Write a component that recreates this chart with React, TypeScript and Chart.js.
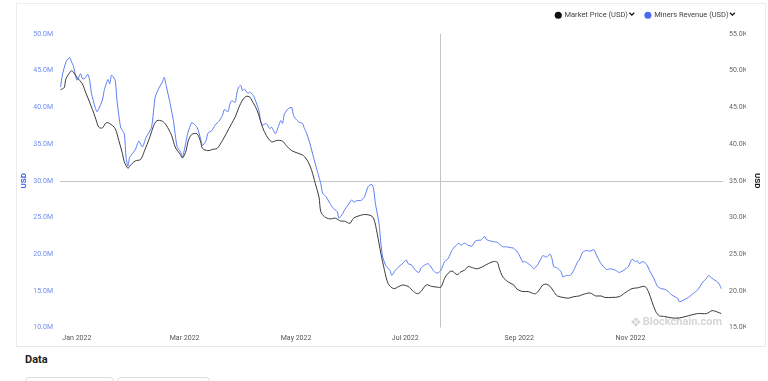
import React, { useEffect, useRef } from "react";
import { Chart, registerables } from "chart.js";

Chart.register(...registerables);

// x positions are day offsets from 1 Jan 2022
const monthTickDays = [0, 59, 120, 181, 243, 304];
const monthTickLabels = ["Jan 2022", "Mar 2022", "May 2022", "Jul 2022", "Sep 2022", "Nov 2022"];

// Miners Revenue (USD), millions
const revenueDays = [
  -1, 0, 2, 4, 5, 6, 8, 10, 11, 12,
  14, 15, 16, 18, 19, 20, 22, 23, 25, 26,
  27, 29, 30, 32, 34, 35, 36, 37, 40, 42,
  44, 46, 49, 51, 53, 55, 56, 57, 59, 61,
  63, 65, 66, 68, 69, 71, 72, 74, 76, 77,
  79, 80, 82, 84, 86, 88, 89, 91, 92, 93,
  95, 96, 97, 98, 99, 100, 102, 103, 105, 106,
  108, 109, 110, 112, 114, 115, 117, 118, 120, 121,
  122, 124, 126, 127, 128, 130, 132, 133, 134, 136,
  138, 140, 141, 142, 143, 145, 147, 149, 151, 152,
  154, 155, 157, 159, 160, 162, 164, 166, 168, 170,
  171, 172, 174, 175, 176, 178, 180, 181, 183, 185,
  186, 189, 190, 192, 194, 196, 197, 199, 201, 203,
  204, 206, 208, 210, 212, 214, 216, 218, 219, 221,
  223, 225, 227, 229, 230, 232, 233, 235, 237, 239,
  240, 242, 244, 246, 248, 250, 251, 253, 254, 256,
  258, 259, 261, 263, 264, 266, 268, 269, 270, 272,
  274, 275, 277, 279, 281, 283, 284, 286, 288, 290,
  292, 294, 296, 299, 301, 304, 306, 309, 311, 313,
  315, 316, 317, 319, 321, 323, 325, 327, 329, 331,
  333, 335, 338, 339, 341, 344, 347, 349, 352, 354,
  355, 357, 360, 361, 362,
];
const revenueValues = [
  42.8, 44.4, 46.2, 46.8, 46.2, 45.7, 43.7, 44.6, 43.9, 43.9,
  44.5, 43.7, 41.9, 40.0, 39.4, 39.8, 41.0, 42.3, 43.8, 43.2,
  44.4, 43.7, 41.0, 37.3, 36.4, 33.2, 32.0, 33.2, 34.2, 35.4,
  34.6, 35.9, 37.3, 41.4, 42.6, 43.5, 44.1, 43.0, 40.8, 38.2,
  34.7, 33.9, 33.2, 35.4, 36.6, 37.9, 37.8, 37.3, 35.7, 34.8,
  35.5, 36.5, 36.8, 37.6, 38.1, 38.9, 39.7, 39.4, 40.4, 40.9,
  40.7, 42.1, 42.8, 43.0, 42.3, 42.5, 41.9, 42.1, 41.6, 41.0,
  39.6, 38.0, 37.6, 37.8, 37.1, 37.3, 36.4, 36.9, 38.2, 37.8,
  39.1, 39.8, 40.0, 38.9, 38.5, 38.0, 37.8, 37.1, 36.6, 35.1,
  33.2, 31.4, 30.5, 29.6, 28.3, 27.8, 26.9, 26.2, 25.8, 24.9,
  25.5, 26.0, 26.7, 27.4, 27.1, 27.3, 27.3, 27.8, 29.2, 29.5,
  28.9, 26.9, 24.2, 21.5, 19.6, 18.3, 17.8, 17.1, 17.8, 18.3,
  18.5, 19.2, 18.7, 18.5, 17.8, 17.5, 18.1, 18.5, 18.7, 18.1,
  17.7, 17.4, 17.8, 19.0, 19.4, 20.5, 21.1, 21.5, 21.2, 21.5,
  21.2, 21.1, 21.8, 21.9, 21.9, 22.4, 22.0, 21.8, 21.7, 21.6,
  21.4, 21.0, 21.0, 20.9, 20.8, 20.3, 19.9, 18.9, 19.0, 18.7,
  18.3, 18.0, 18.5, 19.4, 19.8, 19.6, 20.0, 19.4, 18.3, 18.1,
  17.6, 16.9, 17.1, 17.1, 17.8, 18.9, 19.2, 20.3, 20.5, 20.4,
  20.6, 19.6, 18.7, 17.9, 18.0, 17.8, 17.5, 17.9, 18.3, 19.3,
  19.0, 19.1, 18.7, 19.0, 18.6, 17.6, 16.7, 15.6, 15.3, 15.2,
  14.9, 14.4, 14.0, 13.5, 13.7, 14.1, 14.7, 15.1, 16.2, 16.7,
  17.1, 16.7, 16.2, 15.9, 15.3,
];

// Market Price (USD), thousands
const priceDays = [
  -1, 1, 2, 5, 6, 8, 11, 13, 15, 18,
  20, 22, 24, 26, 29, 31, 33, 34, 36, 37,
  40, 43, 45, 48, 50, 52, 55, 57, 60, 62,
  65, 66, 68, 69, 71, 74, 76, 77, 80, 83,
  85, 88, 90, 93, 95, 97, 99, 101, 103, 104,
  107, 110, 112, 115, 118, 121, 123, 126, 129, 132,
  133, 135, 137, 139, 141, 142, 144, 147, 150, 153,
  155, 158, 160, 164, 166, 169, 171, 173, 175, 177,
  179, 182, 185, 187, 190, 193, 195, 197, 200, 203,
  206, 208, 210, 212, 214, 217, 219, 221, 223, 226,
  228, 231, 234, 237, 239, 240, 242, 245, 248, 250,
  253, 256, 258, 260, 262, 264, 266, 268, 270, 272,
  275, 278, 281, 284, 286, 290, 293, 296, 298, 302,
  306, 309, 313, 316, 320, 322, 324, 326, 328, 331,
  335, 339, 344, 349, 354, 357, 360, 362,
];
const priceValues = [
  47.4, 47.7, 48.9, 50.0, 49.8, 49.1, 48.2, 46.9, 45.7, 43.7,
  42.3, 42.2, 42.9, 42.8, 42.1, 40.5, 38.7, 37.6, 36.7, 37.0,
  37.7, 37.9, 39.0, 40.9, 42.4, 43.2, 43.1, 42.6, 41.2, 39.6,
  38.5, 38.1, 39.1, 40.3, 41.3, 41.4, 40.3, 39.4, 39.1, 39.3,
  39.4, 40.5, 41.4, 42.8, 43.7, 45.0, 46.0, 46.5, 46.4, 46.0,
  44.6, 42.3, 41.2, 40.3, 40.5, 40.4, 39.8, 39.1, 38.8, 38.5,
  38.3, 37.6, 36.4, 34.6, 32.8, 30.8, 30.1, 29.8, 29.9, 29.5,
  29.5, 29.2, 29.9, 30.3, 30.4, 30.3, 29.9, 27.8, 25.1, 22.8,
  21.0, 20.3, 20.6, 20.8, 20.6, 19.9, 19.6, 19.9, 20.8, 20.6,
  20.5, 20.5, 21.7, 22.4, 22.7, 22.2, 22.6, 22.8, 23.3, 23.1,
  23.0, 23.3, 23.7, 24.0, 23.9, 23.1, 21.9, 21.2, 20.8, 20.2,
  19.9, 19.9, 19.7, 19.6, 20.1, 20.8, 20.9, 20.6, 19.9, 19.3,
  19.1, 19.0, 19.2, 19.3, 19.5, 19.7, 19.3, 19.3, 19.1, 19.1,
  19.2, 19.7, 20.3, 20.4, 20.6, 19.9, 18.5, 17.2, 16.6, 16.5,
  16.3, 16.3, 16.6, 16.9, 16.9, 17.3, 17.1, 16.9,
];

const crosshairDay = 207.5;
const crosshairRevenue = 30;

const FONT = 'Roboto, "Noto Sans", sans-serif';
const BLUE = "#5a7cf4";
const BLACK = "#3a3a3a";

const legendSpacer = {
  id: "legendSpacer",
  beforeInit(chart: any) {
    const legend = chart.legend;
    if (!legend) return;
    const orig = legend.fit;
    legend.fit = function () {
      orig.call(this);
      this.height += 5;
    };
  },
};

const chevrons = {
  id: "chevrons",
  afterDraw(chart: any) {
    const boxes = chart.legend && chart.legend.legendHitBoxes;
    if (!boxes) return;
    const ctx = chart.ctx;
    ctx.save();
    ctx.strokeStyle = "#111";
    ctx.lineWidth = 1.3;
    ctx.lineJoin = "miter";
    boxes.forEach((b: any) => {
      const x = b.left + b.width - 6;
      const y = b.top + b.height / 2 - 1;
      ctx.beginPath();
      ctx.moveTo(x, y - 1.5);
      ctx.lineTo(x + 2.4, y + 0.9);
      ctx.lineTo(x + 4.8, y - 1.5);
      ctx.stroke();
    });
    ctx.restore();
  },
};

const crosshair = {
  id: "crosshair",
  beforeDatasetsDraw(chart: any) {
    const { ctx, chartArea, scales } = chart;
    const x = Math.round(scales.x.getPixelForValue(crosshairDay)) + 0.5;
    const y = Math.round(scales.yRev.getPixelForValue(crosshairRevenue)) + 0.5;
    ctx.save();
    ctx.strokeStyle = "#c4c4c4";
    ctx.lineWidth = 1;
    ctx.beginPath();
    ctx.moveTo(x, chartArea.top);
    ctx.lineTo(x, chartArea.bottom);
    ctx.moveTo(chartArea.left, y);
    ctx.lineTo(chartArea.right, y);
    ctx.stroke();
    ctx.restore();
  },
};

const watermark = {
  id: "watermark",
  beforeDatasetsDraw(chart: any) {
    const { ctx, chartArea } = chart;
    ctx.save();
    ctx.fillStyle = "#d6d6d6";
    ctx.font = `bold 11px ${FONT}`;
    ctx.textAlign = "right";
    ctx.textBaseline = "middle";
    const tx = chartArea.right - 1;
    const ty = chartArea.bottom - 5.5;
    ctx.fillText("Blockchain.com", tx, ty);
    const w = ctx.measureText("Blockchain.com").width;
    const cx = tx - w - 7;
    const s = 4.8;
    ctx.beginPath();
    ctx.moveTo(cx, ty - s);
    ctx.lineTo(cx + s, ty);
    ctx.lineTo(cx, ty + s);
    ctx.lineTo(cx - s, ty);
    ctx.closePath();
    ctx.fill();
    ctx.strokeStyle = "#ffffff";
    ctx.lineWidth = 1;
    ctx.beginPath();
    ctx.moveTo(cx - s * 0.5, ty - s * 0.5);
    ctx.lineTo(cx + s * 0.5, ty + s * 0.5);
    ctx.moveTo(cx + s * 0.5, ty - s * 0.5);
    ctx.lineTo(cx - s * 0.5, ty + s * 0.5);
    ctx.stroke();
    ctx.restore();
  },
};

export default function App() {
  const canvasRef = useRef<HTMLCanvasElement | null>(null);

  useEffect(() => {
    if (!canvasRef.current) return;
    const chart = new Chart(canvasRef.current, {
      type: "line",
      data: {
        datasets: [
          {
            label: "Market Price (USD)",
            data: priceDays.map((d, i) => ({ x: d, y: priceValues[i] })),
            yAxisID: "yPrice",
            borderColor: BLACK,
            backgroundColor: "#111111",
            borderWidth: 1,
            pointRadius: 0,
            tension: 0.3,
          },
          {
            label: "Miners Revenue (USD)",
            data: revenueDays.map((d, i) => ({ x: d, y: revenueValues[i] })),
            yAxisID: "yRev",
            borderColor: BLUE,
            backgroundColor: "#4a6cf0",
            borderWidth: 1,
            pointRadius: 0,
            tension: 0.2,
          },
        ],
      },
      options: {
        animation: false,
        responsive: false,
        devicePixelRatio: 1,
        layout: { padding: { top: 1.5, right: 22, left: 0, bottom: 0 } },
        plugins: {
          tooltip: { enabled: false },
          legend: {
            display: true,
            position: "top",
            align: "end",
            labels: {
              usePointStyle: true,
              pointStyle: "circle",
              boxWidth: 5,
              boxHeight: 5,
              padding: 10,
              color: "#444",
              font: { family: FONT, size: 7.5 },
              generateLabels(chart: any) {
                const items = (Chart.defaults.plugins.legend.labels as any).generateLabels(chart);
                return items.map((it: any, i: number) => ({
                  ...it,
                  text: it.text + "    ",
                  fillStyle: chart.data.datasets[i].backgroundColor,
                  strokeStyle: chart.data.datasets[i].backgroundColor,
                  lineWidth: 0,
                  pointStyle: "circle",
                }));
              },
            },
          },
        },
        scales: {
          x: {
            type: "linear",
            min: -1.3,
            max: 363,
            grid: { display: false, drawTicks: false },
            border: { display: false },
            afterBuildTicks(scale: any) {
              scale.ticks = monthTickDays.map((v) => ({ value: v }));
            },
            afterFit(scale: any) {
              scale.height = 18.5;
            },
            ticks: {
              autoSkip: false,
              maxRotation: 0,
              minRotation: 0,
              align: "start",
              padding: 7,
              color: "#555",
              font: { family: FONT, size: 7 },
              callback(value: any) {
                const i = monthTickDays.indexOf(Number(value));
                return i >= 0 ? monthTickLabels[i] : "";
              },
            },
          },
          yRev: {
            type: "linear",
            position: "left",
            min: 10,
            max: 50,
            grid: { display: false, drawTicks: false },
            border: { display: false },
            afterFit(scale: any) {
              scale.width = 60;
            },
            ticks: {
              stepSize: 5,
              padding: 7,
              color: "#6f8ef0",
              font: { family: FONT, size: 7 },
              callback(value: any) {
                return Number(value).toFixed(1) + "M";
              },
            },
            title: {
              display: true,
              text: "USD",
              color: "#3a5ce6",
              font: { family: FONT, size: 8, weight: "bold" },
              padding: { top: 19, bottom: 0 },
            },
          },
          yPrice: {
            type: "linear",
            position: "right",
            min: 15,
            max: 55,
            grid: { display: false, drawTicks: false },
            border: { display: false },
            afterFit(scale: any) {
              scale.width = 23;
            },
            ticks: {
              stepSize: 5,
              padding: 6,
              color: "#666",
              font: { family: FONT, size: 7 },
              callback(value: any) {
                return Number(value).toFixed(1) + "K";
              },
            },
            title: {
              display: true,
              text: "USD",
              color: "#111",
              font: { family: FONT, size: 8, weight: "bold" },
              padding: { top: -15.8, bottom: 0 },
            },
          },
        },
      } as any,
      plugins: [legendSpacer, chevrons, crosshair, watermark],
    });
    return () => chart.destroy();
  }, []);

  return (
    <div
      style={{
        position: "fixed",
        left: 0,
        top: 0,
        width: 768,
        height: 381,
        background: "#fff",
        overflow: "hidden",
        fontFamily: FONT,
      }}
    >
      <div
        style={{
          position: "absolute",
          left: 16,
          top: 3,
          width: 748,
          height: 343,
          borderLeft: "1px solid #ececec",
          borderRight: "1px solid #ececec",
          borderTop: "1px solid #ececec",
        }}
      />
      <div style={{ position: "absolute", left: 0, top: 0, width: 768, height: 346 }}>
        <canvas ref={canvasRef} width={768} height={346} style={{ display: "block" }} />
      </div>
      <div style={{ position: "absolute", left: 17, top: 346, width: 748, height: 1, background: "#e8e8e8" }} />
      <div
        style={{
          position: "absolute",
          left: 25,
          top: 353,
          fontSize: 11,
          fontWeight: 700,
          color: "#222",
          lineHeight: "14px",
        }}
      >
        Data
      </div>
      <div
        style={{
          position: "absolute",
          left: 25,
          top: 377,
          width: 87,
          height: 20,
          border: "1px solid #dddddd",
          borderRadius: 4,
        }}
      />
      <div
        style={{
          position: "absolute",
          left: 117,
          top: 377,
          width: 91,
          height: 20,
          border: "1px solid #dddddd",
          borderRadius: 4,
        }}
      />
    </div>
  );
}
